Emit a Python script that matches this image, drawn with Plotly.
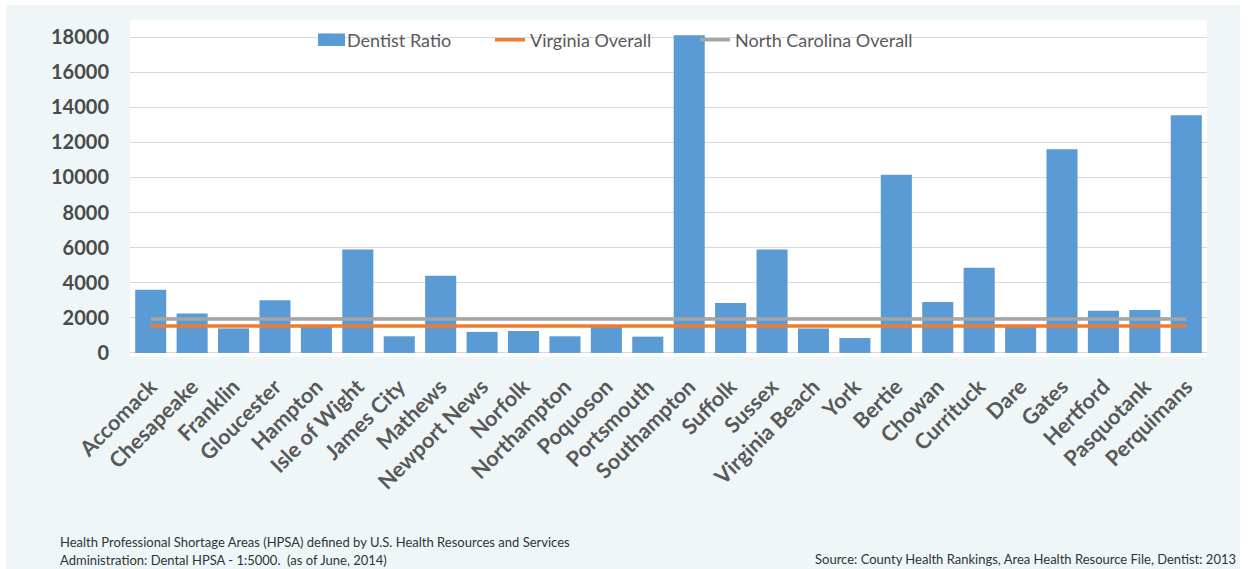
import plotly.graph_objects as go

counties = ["Accomack", "Chesapeake", "Franklin", "Gloucester", "Hampton", "Isle of Wight",
            "James City", "Mathews", "Newport News", "Norfolk", "Northampton", "Poquoson",
            "Portsmouth", "Southampton", "Suffolk", "Sussex", "Virginia Beach", "York",
            "Bertie", "Chowan", "Currituck", "Dare", "Gates", "Hertford", "Pasquotank",
            "Perquimans"]
dentist_ratio = [3600, 2250, 1400, 3000, 1500, 5900, 950, 4400, 1200, 1250, 950, 1500,
                 930, 18100, 2850, 5900, 1400, 850, 10150, 2900, 4850, 1500, 11600, 2400,
                 2450, 13550]
virginia_overall = [1530] * len(counties)
nc_overall = [1930] * len(counties)

y_ticks = [0, 2000, 4000, 6000, 8000, 10000, 12000, 14000, 16000, 18000]
y_tick_labels = ["0", "2000", "4000", "6000", "8000", "10000", "12000", "14000", "16000", "18000"]

W, H = 1248, 569
L, R, T, B = 130, 1207, 20, 357


def px_x(p):
    return (p - L) / (R - L)


def px_y(p):
    return (B - p) / (B - T)


FONT = "Lato"
BLUE = "#5B9BD5"
fig = go.Figure()
fig.add_trace(go.Bar(x=counties, y=dentist_ratio, name="Dentist Ratio",
                     marker=dict(color=BLUE, line=dict(width=0)), legend="legend", showlegend=True))
fig.add_trace(go.Scatter(x=counties, y=virginia_overall, name="Virginia Overall", mode="lines",
                         line=dict(color="#ED7D31", width=3.5), legend="legend2", showlegend=True))
fig.add_trace(go.Scatter(x=counties, y=nc_overall, name="North Carolina Overall", mode="lines",
                         line=dict(color="#A5A5A5", width=3.5), legend="legend3", showlegend=True))

leg_common = dict(orientation="h", xanchor="left", yanchor="middle", y=px_y(40),
                  bgcolor="rgba(0,0,0,0)", font=dict(family=FONT, size=18, color="#595959"))
fig.update_layout(
    width=W, height=H,
    showlegend=True,
    margin=dict(l=L, r=W - R, t=T, b=H - B),
    paper_bgcolor="#EEF6F8",
    plot_bgcolor="white",
    bargap=0.25,
    legend=dict(x=px_x(307), **leg_common),
    legend2=dict(x=px_x(490), **leg_common),
    legend3=dict(x=px_x(695), **leg_common),
    xaxis=dict(tickangle=-45, tickfont=dict(family=FONT, size=21.5, color="#595959", weight="bold"),
               showgrid=False, showline=False, ticks="", ticklabelstandoff=12),
    yaxis=dict(range=[-230, 18970], tickvals=y_ticks, ticktext=y_tick_labels,
               gridcolor="#D9D9D9", gridwidth=1,
               zeroline=False, showline=False,
               tickfont=dict(family=FONT, size=20, color="#4a4a4a", weight="bold"),
               ticklabelstandoff=20),
    shapes=[
        dict(type="rect", xref="paper", yref="paper", x0=-0.2, x1=1.2, y0=px_y(5), y1=1.2,
             fillcolor="white", line=dict(width=0), layer="above"),
        dict(type="rect", xref="paper", yref="paper", x0=-0.2, x1=px_x(6), y0=-1, y1=1.2,
             fillcolor="white", line=dict(width=0), layer="above"),
        dict(type="rect", xref="paper", yref="paper", x0=px_x(1240), x1=1.2, y0=-1, y1=1.2,
             fillcolor="white", line=dict(width=0), layer="above"),
        # widen the bar legend swatch to match the reference
        dict(type="rect", xref="paper", yref="paper", x0=px_x(318), x1=px_x(345),
             y0=px_y(46), y1=px_y(33.5), fillcolor=BLUE, line=dict(width=0), layer="above"),
    ],
    annotations=[
        dict(xref="paper", yref="paper", x=px_x(58), y=px_y(542), xanchor="left", yanchor="middle",
             showarrow=False, align="left",
             text="Health Professional Shortage Areas (HPSA) defined by U.S. Health Resources and Services",
             font=dict(family=FONT, size=13, color="#333333")),
        dict(xref="paper", yref="paper", x=px_x(58), y=px_y(560), xanchor="left", yanchor="middle",
             showarrow=False, align="left",
             text="Administration: Dental HPSA - 1:5000.  (as of June, 2014)",
             font=dict(family=FONT, size=13, color="#333333")),
        dict(xref="paper", yref="paper", x=px_x(1238), y=px_y(559), xanchor="right", yanchor="middle",
             showarrow=False,
             text="Source: County Health Rankings, Area Health Resource File, Dentist: 2013",
             font=dict(family=FONT, size=13, color="#333333")),
    ],
)

fig.write_html("out.html")
